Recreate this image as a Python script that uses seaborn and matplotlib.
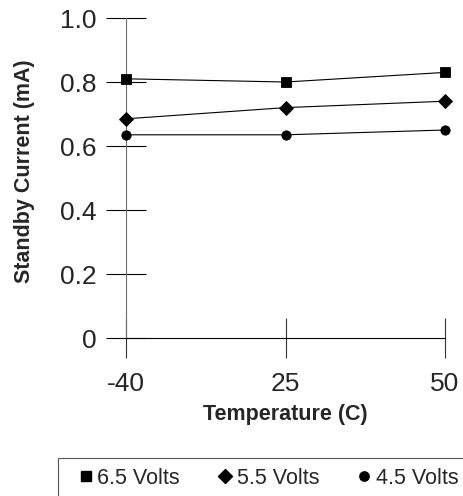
import pandas as pd
import matplotlib.pyplot as plt
import seaborn as sns
from matplotlib.lines import Line2D
from matplotlib.patches import Rectangle

# valores
temps = ['-40', '25', '50']
series = ['6.5 Volts', '5.5 Volts', '4.5 Volts']
v65 = [0.81, 0.80, 0.83]
v55 = [0.685, 0.72, 0.74]
v45 = [0.635, 0.635, 0.65]
markers = ['s', 'D', 'o']
yticks = [0, 0.2, 0.4, 0.6, 0.8, 1.0]
ytick_labels = ['0', '0.2', '0.4', '0.6', '0.8', '1.0']

df = pd.DataFrame({
    'Temperature': temps * 3,
    'Current': v65 + v55 + v45,
    'Series': [s for s in series for _ in temps],
})

sns.set_style('white')
plt.rcParams['font.family'] = ['Liberation Sans', 'DejaVu Sans']

fig = plt.figure(figsize=(4.64, 4.96), dpi=100)
ax = fig.add_axes([0.2716, 0.3185, 0.6875, 0.6452])

sns.pointplot(data=df, x='Temperature', y='Current', hue='Series', order=temps,
              hue_order=series, markers=markers, linestyles='-',
              palette=['black'] * 3, errorbar=None, legend=False, ax=ax,
              markersize=6.7, linewidth=0.8)

for ln in ax.lines:
    ln.set_clip_on(False)
    ln.set_zorder(5)

ax.set_xlim(0, 2)
ax.set_ylim(0, 1)
ax.set_xticks(range(len(temps)))
ax.set_xticklabels(temps)
ax.set_yticks(yticks)
ax.set_yticklabels(ytick_labels)

for side in ['top', 'right']:
    ax.spines[side].set_visible(False)
ax.spines['left'].set_color('#6e6e6e')
ax.spines['bottom'].set_color('black')
for side in ['left', 'bottom']:
    ax.spines[side].set_linewidth(0.8)

ax.tick_params(axis='y', left=True, direction='inout', length=28.8, width=0.8,
               color='black', labelsize=19, pad=6.5)
ax.tick_params(axis='x', bottom=True, direction='inout', length=28.8, width=0.8,
               color='#333333', labelsize=19, pad=10)

ax.set_xlabel('Temperature (C)', fontsize=15.5, fontweight='bold')
ax.xaxis.set_label_coords(0.5, -0.205)
ax.set_ylabel('')
fig.text(25 / 464, 1 - 171 / 496, 'Standby Current (mA)', rotation=90,
         ha='center', va='center', fontsize=15.5, fontweight='bold')

# leyenda abajo con marco que se sale de la figura
fig.add_artist(Rectangle((58 / 464, -0.2), 1.0, 0.2 + 1 - 458 / 496,
                         transform=fig.transFigure, fill=False,
                         edgecolor='#555555', linewidth=0.8, clip_on=False))
handles = [Line2D([], [], marker=m, linestyle='none', color='black', markersize=6.7)
           for m in markers]
fig.legend(handles, series, loc='center left', bbox_to_anchor=(77 / 464, 1 - 478 / 496),
           ncol=3, frameon=False, fontsize=15.5, handlelength=0.8, handletextpad=0.15,
           columnspacing=1.69, borderpad=0, borderaxespad=0)

fig.savefig('out.png', dpi=100)
